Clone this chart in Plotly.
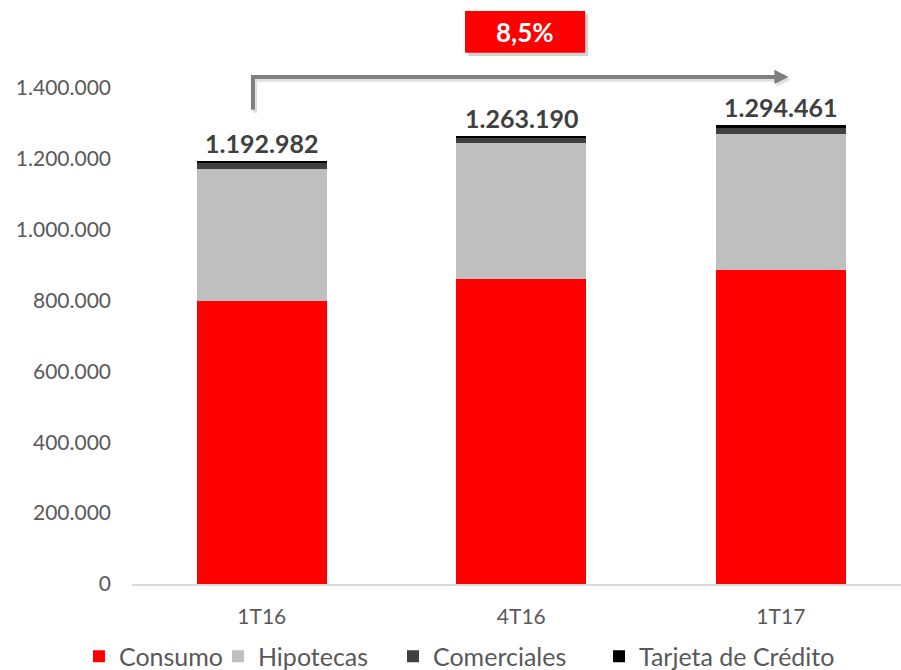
import plotly.graph_objects as go

categories = ["1T16", "4T16", "1T17"]
consumo = [799500, 861500, 887000]
hipotecas = [372200, 382700, 383400]
comerciales = [16500, 16400, 18500]
tarjeta = [4782, 2590, 5561]
totals = [1192982, 1263190, 1294461]
total_labels = ["1.192.982", "1.263.190", "1.294.461"]
growth_label = "8,5%"
y_ticks = [0, 200000, 400000, 600000, 800000, 1000000, 1200000, 1400000]
y_tick_text = ["0", "200.000", "400.000", "600.000", "800.000", "1.000.000", "1.200.000", "1.400.000"]

FONT = "Lato"
series = [
    ("Consumo", consumo, "#FF0000"),
    ("Hipotecas", hipotecas, "#BFBFBF"),
    ("Comerciales", comerciales, "#404040"),
    ("Tarjeta de Crédito", tarjeta, "#000000"),
]
legend_ids = ["legend", "legend2", "legend3", "legend4"]
legend_x = [-0.069, 0.1118, 0.3394, 0.6073]

fig = go.Figure()
for (name, vals, col), lid in zip(series, legend_ids):
    fig.add_trace(go.Bar(x=categories, y=vals, name=name, legend=lid,
                         marker=dict(color=col, line=dict(width=0)), width=0.5))

for c, t, lab in zip(categories, totals, total_labels):
    fig.add_annotation(x=c, y=t, text="<b>%s</b>" % lab, showarrow=False, yanchor="bottom", yshift=1,
                       font=dict(family=FONT, size=25, color="#404040"))

# growth arrow (elbow connector) with soft shadow
x0, x1 = -0.034, 1.985
yb, yt = 1338000, 1431000
for dx, dy, col in [(0.008, -8000, "rgba(0,0,0,0.12)"), (0, 0, "#7F7F7F")]:
    fig.add_shape(type="path", path="M %f,%f L %f,%f L %f,%f" % (x0 + dx, yb + dy, x0 + dx, yt + dy, x1 + dx, yt + dy),
                  line=dict(color=col, width=4), xref="x", yref="y", layer="above")
    fig.add_shape(type="path",
                  path="M %f,%f L %f,%f L %f,%f Z" % (x1 - 0.01 + dx, yt + 20000 + dy, x1 + 0.045 + dx, yt + dy, x1 - 0.01 + dx, yt - 20000 + dy),
                  fillcolor=col, line=dict(width=0), xref="x", yref="y", layer="above")

# badge with shadow
bx0, bx1 = 0.783, 1.246
by0, by1 = 1499000, 1617000
fig.add_shape(type="rect", x0=bx0 + 0.012, x1=bx1 + 0.012, y0=by0 - 9000, y1=by1 - 9000,
              fillcolor="rgba(0,0,0,0.18)", line=dict(width=0), layer="above")
fig.add_shape(type="rect", x0=bx0, x1=bx1, y0=by0, y1=by1, fillcolor="#FF0000", line=dict(width=0), layer="above")
fig.add_annotation(x=(bx0 + bx1) / 2, y=(by0 + by1) / 2, text="<b>%s</b>" % growth_label, showarrow=False,
                   font=dict(family=FONT, size=26, color="white"))

legend_style = dict(orientation="h", xanchor="left", y=-0.124, yanchor="middle",
                    font=dict(family=FONT, size=25, color="#595959"),
                    itemclick=False, itemdoubleclick=False, bgcolor="rgba(0,0,0,0)")
layout_legends = {lid: dict(x=lx, **legend_style) for lid, lx in zip(legend_ids, legend_x)}

fig.update_layout(
    barmode="stack",
    width=901, height=670,
    margin=dict(l=132, r=0, t=0, b=85.5, autoexpand=False),
    paper_bgcolor="white", plot_bgcolor="white",
    font=dict(family=FONT, size=21, color="#595959"),
    showlegend=True,
    **layout_legends,
)
fig.update_xaxes(range=[-0.5, 2.463], showline=True, linecolor="#D9D9D9", linewidth=1.5,
                 showgrid=False, ticks="", ticklabelstandoff=13, tickfont=dict(size=21, color="#595959"))
fig.update_yaxes(range=[0, 1648000], tickvals=y_ticks, ticktext=y_tick_text, showgrid=False,
                 zeroline=False, showline=False, ticks="", ticklabelstandoff=20,
                 tickfont=dict(size=21, color="#595959"))

fig.write_html("out.html")
